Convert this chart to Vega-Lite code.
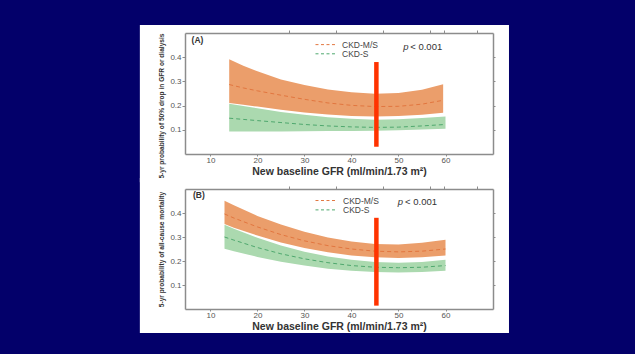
{
  "$schema": "https://vega.github.io/schema/vega-lite/v6.json",
  "background": "#03006A",
  "padding": {"left": 139, "top": 25, "right": 127, "bottom": 21},
  "autosize": {"type": "pad"},
  "config": {
    "font": "Liberation Sans",
    "view": {"stroke": null},
    "axis": {"grid": false, "domainColor": "#8c8c8c", "domainWidth": 1.5, "tickColor": "#8c8c8c", "tickWidth": 1, "labelColor": "#555555", "titleColor": "#333333"}
  },
  "datasets": {
    "one": [{"panel": "frame"}],
    "bandsA": [
      {"group": "CKD-M/S", "x": 14, "lo": 0.211, "mid": 0.287, "hi": 0.392},
      {"group": "CKD-M/S", "x": 17, "lo": 0.203, "mid": 0.273, "hi": 0.365},
      {"group": "CKD-M/S", "x": 20, "lo": 0.196, "mid": 0.261, "hi": 0.342},
      {"group": "CKD-M/S", "x": 25, "lo": 0.183, "mid": 0.243, "hi": 0.308},
      {"group": "CKD-M/S", "x": 30, "lo": 0.172, "mid": 0.226, "hi": 0.285},
      {"group": "CKD-M/S", "x": 35, "lo": 0.163, "mid": 0.211, "hi": 0.267},
      {"group": "CKD-M/S", "x": 40, "lo": 0.157, "mid": 0.201, "hi": 0.255},
      {"group": "CKD-M/S", "x": 45, "lo": 0.155, "mid": 0.196, "hi": 0.249},
      {"group": "CKD-M/S", "x": 50, "lo": 0.157, "mid": 0.197, "hi": 0.252},
      {"group": "CKD-M/S", "x": 55, "lo": 0.162, "mid": 0.206, "hi": 0.266},
      {"group": "CKD-M/S", "x": 59.5, "lo": 0.170, "mid": 0.222, "hi": 0.288},
      {"group": "CKD-S", "x": 14, "lo": 0.093, "mid": 0.148, "hi": 0.208},
      {"group": "CKD-S", "x": 17, "lo": 0.093, "mid": 0.143, "hi": 0.198},
      {"group": "CKD-S", "x": 20, "lo": 0.093, "mid": 0.138, "hi": 0.189},
      {"group": "CKD-S", "x": 25, "lo": 0.093, "mid": 0.130, "hi": 0.174},
      {"group": "CKD-S", "x": 30, "lo": 0.094, "mid": 0.122, "hi": 0.162},
      {"group": "CKD-S", "x": 35, "lo": 0.095, "mid": 0.116, "hi": 0.152},
      {"group": "CKD-S", "x": 40, "lo": 0.095, "mid": 0.112, "hi": 0.146},
      {"group": "CKD-S", "x": 45, "lo": 0.096, "mid": 0.110, "hi": 0.142},
      {"group": "CKD-S", "x": 50, "lo": 0.098, "mid": 0.111, "hi": 0.144},
      {"group": "CKD-S", "x": 55, "lo": 0.101, "mid": 0.116, "hi": 0.149},
      {"group": "CKD-S", "x": 60, "lo": 0.104, "mid": 0.122, "hi": 0.155}
    ],
    "bandsB": [
      {"group": "CKD-M/S", "x": 13, "lo": 0.354, "mid": 0.396, "hi": 0.451},
      {"group": "CKD-M/S", "x": 15, "lo": 0.339, "mid": 0.379, "hi": 0.432},
      {"group": "CKD-M/S", "x": 20, "lo": 0.306, "mid": 0.342, "hi": 0.388},
      {"group": "CKD-M/S", "x": 25, "lo": 0.277, "mid": 0.310, "hi": 0.352},
      {"group": "CKD-M/S", "x": 30, "lo": 0.254, "mid": 0.284, "hi": 0.322},
      {"group": "CKD-M/S", "x": 35, "lo": 0.236, "mid": 0.264, "hi": 0.298},
      {"group": "CKD-M/S", "x": 40, "lo": 0.223, "mid": 0.250, "hi": 0.281},
      {"group": "CKD-M/S", "x": 45, "lo": 0.216, "mid": 0.241, "hi": 0.271},
      {"group": "CKD-M/S", "x": 50, "lo": 0.213, "mid": 0.238, "hi": 0.269},
      {"group": "CKD-M/S", "x": 55, "lo": 0.216, "mid": 0.241, "hi": 0.276},
      {"group": "CKD-M/S", "x": 60, "lo": 0.223, "mid": 0.250, "hi": 0.289},
      {"group": "CKD-S", "x": 13, "lo": 0.251, "mid": 0.300, "hi": 0.351},
      {"group": "CKD-S", "x": 15, "lo": 0.241, "mid": 0.287, "hi": 0.334},
      {"group": "CKD-S", "x": 20, "lo": 0.217, "mid": 0.256, "hi": 0.297},
      {"group": "CKD-S", "x": 25, "lo": 0.197, "mid": 0.230, "hi": 0.265},
      {"group": "CKD-S", "x": 30, "lo": 0.181, "mid": 0.209, "hi": 0.239},
      {"group": "CKD-S", "x": 35, "lo": 0.168, "mid": 0.193, "hi": 0.219},
      {"group": "CKD-S", "x": 40, "lo": 0.159, "mid": 0.181, "hi": 0.205},
      {"group": "CKD-S", "x": 45, "lo": 0.154, "mid": 0.174, "hi": 0.196},
      {"group": "CKD-S", "x": 50, "lo": 0.152, "mid": 0.172, "hi": 0.193},
      {"group": "CKD-S", "x": 55, "lo": 0.154, "mid": 0.174, "hi": 0.196},
      {"group": "CKD-S", "x": 60, "lo": 0.159, "mid": 0.181, "hi": 0.205}
    ],
    "cutA": [{"x": 45.3, "lo": 0.03, "hi": 0.38}],
    "cutB": [{"x": 45.3, "lo": 0.014, "hi": 0.38}]
  },
  "spacing": 35,
  "bounds": "flush",
  "resolve": {"scale": {"stroke": "independent", "fill": "independent"}},
  "vconcat": [
    {
      "width": 308,
      "height": 121,
      "layer": [
        {
          "data": {"name": "one"},
          "mark": {"type": "rect", "fill": "white"},
          "encoding": {
            "x": {"datum": -5.0, "type": "quantitative", "scale": {"domain": [4.6, 70.1], "nice": false, "zero": false},
                  "axis": {"orient": "top", "zindex": 1, "values": [26.7, 36.8, 46.8, 56.8, 59.6, 66.8], "labels": false, "title": null, "tickSize": 3}},
            "x2": {"datum": 73.5},
            "y": {"datum": 0.533, "type": "quantitative", "scale": {"domain": [0, 0.5], "nice": false, "zero": false},
                  "axis": {"orient": "right", "zindex": 1, "values": [0.1, 0.2, 0.3, 0.4], "labels": false, "title": null, "tickSize": 2}},
            "y2": {"datum": -0.117}
          }
        },
        {
          "data": {"name": "bandsA"},
          "mark": {"type": "area", "opacity": 1},
          "encoding": {
            "x": {"field": "x", "type": "quantitative", "scale": {"domain": [4.6, 70.1], "nice": false, "zero": false},
                  "axis": {"orient": "bottom", "zindex": 1, "values": [10, 20, 30, 40, 50, 60], "tickSize": 2, "labelFontSize": 8, "labelPadding": 0, "title": "New baseline GFR (ml/min/1.73 m²)", "titleFontSize": 10.5, "titleFontWeight": "bold", "titlePadding": 2}},
            "y": {"field": "lo", "type": "quantitative", "scale": {"domain": [0, 0.5], "nice": false, "zero": false},
                  "axis": {"orient": "left", "zindex": 1, "values": [0.1, 0.2, 0.3, 0.4], "format": ".1f", "tickSize": 3, "labelFontSize": 8, "labelPadding": 1, "title": "5-yr probability of 50% drop in GFR or dialysis", "titleFontSize": 6.6, "titleFontWeight": "bold", "titleAnchor": "end", "titlePadding": 5}},
            "y2": {"field": "hi"},
            "fill": {"field": "group", "type": "nominal", "scale": {"domain": ["CKD-M/S", "CKD-S"], "range": ["#EB9E6B", "#ABD9AF"]}, "legend": null}
          }
        },
        {
          "data": {"name": "bandsA"},
          "mark": {"type": "line", "strokeWidth": 1, "strokeDash": [4, 3]},
          "encoding": {
            "x": {"field": "x", "type": "quantitative", "scale": {"domain": [4.6, 70.1], "nice": false, "zero": false}, "axis": null},
            "y": {"field": "mid", "type": "quantitative", "scale": {"domain": [0, 0.5], "nice": false, "zero": false}, "axis": null},
            "stroke": {"field": "group", "type": "nominal", "scale": {"domain": ["CKD-M/S", "CKD-S"], "range": ["#E2763F", "#4FA86E"]}, "legend": null}
          }
        },
        {
          "data": {"name": "cutA"},
          "mark": {"type": "rule", "color": "#FF3300", "strokeWidth": 4.5},
          "encoding": {
            "x": {"field": "x", "type": "quantitative", "scale": {"domain": [4.6, 70.1], "nice": false, "zero": false}, "axis": null},
            "y": {"field": "lo", "type": "quantitative", "scale": {"domain": [0, 0.5], "nice": false, "zero": false}, "axis": null},
            "y2": {"field": "hi"}
          }
        },
        {
          "data": {"name": "one"},
          "mark": {"type": "rule", "color": "#E2763F", "strokeWidth": 1, "strokeDash": [3, 2.5]},
          "encoding": {
            "x": {"datum": 32.35, "type": "quantitative", "scale": {"domain": [4.6, 70.1], "nice": false, "zero": false}, "axis": null},
            "x2": {"datum": 36.6},
            "y": {"datum": 0.452, "type": "quantitative", "scale": {"domain": [0, 0.5], "nice": false, "zero": false}, "axis": null}
          }
        },
        {
          "data": {"name": "one"},
          "mark": {"type": "rule", "color": "#4FA86E", "strokeWidth": 1, "strokeDash": [3, 2.5]},
          "encoding": {
            "x": {"datum": 32.35, "type": "quantitative", "scale": {"domain": [4.6, 70.1], "nice": false, "zero": false}, "axis": null},
            "x2": {"datum": 36.6},
            "y": {"datum": 0.414, "type": "quantitative", "scale": {"domain": [0, 0.5], "nice": false, "zero": false}, "axis": null}
          }
        },
        {
          "data": {"name": "one"},
          "mark": {"type": "text", "text": "CKD-M/S", "align": "left", "baseline": "middle", "fontSize": 8.5, "color": "#444444"},
          "encoding": {
            "x": {"datum": 38.0, "type": "quantitative", "scale": {"domain": [4.6, 70.1], "nice": false, "zero": false}, "axis": null},
            "y": {"datum": 0.452, "type": "quantitative", "scale": {"domain": [0, 0.5], "nice": false, "zero": false}, "axis": null}
          }
        },
        {
          "data": {"name": "one"},
          "mark": {"type": "text", "text": "CKD-S", "align": "left", "baseline": "middle", "fontSize": 8.5, "color": "#444444"},
          "encoding": {
            "x": {"datum": 38.0, "type": "quantitative", "scale": {"domain": [4.6, 70.1], "nice": false, "zero": false}, "axis": null},
            "y": {"datum": 0.414, "type": "quantitative", "scale": {"domain": [0, 0.5], "nice": false, "zero": false}, "axis": null}
          }
        },
        {
          "data": {"name": "one"},
          "mark": {"type": "text", "text": "(A)", "align": "left", "baseline": "middle", "fontSize": 8.5, "fontWeight": "bold", "color": "#333333"},
          "encoding": {
            "x": {"datum": 6.0, "type": "quantitative", "scale": {"domain": [4.6, 70.1], "nice": false, "zero": false}, "axis": null},
            "y": {"datum": 0.471, "type": "quantitative", "scale": {"domain": [0, 0.5], "nice": false, "zero": false}, "axis": null}
          }
        },
        {
          "data": {"name": "one"},
          "mark": {"type": "text", "text": "p", "align": "left", "baseline": "middle", "fontSize": 9.5, "fontStyle": "italic", "color": "#333333"},
          "encoding": {
            "x": {"datum": 51.0, "type": "quantitative", "scale": {"domain": [4.6, 70.1], "nice": false, "zero": false}, "axis": null},
            "y": {"datum": 0.441, "type": "quantitative", "scale": {"domain": [0, 0.5], "nice": false, "zero": false}, "axis": null}
          }
        },
        {
          "data": {"name": "one"},
          "mark": {"type": "text", "text": "< 0.001", "align": "left", "baseline": "middle", "fontSize": 9.5, "color": "#333333"},
          "encoding": {
            "x": {"datum": 52.5, "type": "quantitative", "scale": {"domain": [4.6, 70.1], "nice": false, "zero": false}, "axis": null},
            "y": {"datum": 0.441, "type": "quantitative", "scale": {"domain": [0, 0.5], "nice": false, "zero": false}, "axis": null}
          }
        }
      ]
    },
    {
      "width": 308,
      "height": 120,
      "layer": [
        {
          "data": {"name": "one"},
          "mark": {"type": "rect", "fill": "white"},
          "encoding": {
            "x": {"datum": -5.0, "type": "quantitative", "scale": {"domain": [4.6, 70.1], "nice": false, "zero": false},
                  "axis": {"orient": "top", "zindex": 1, "values": [26.7, 36.8, 46.8, 56.8, 59.6, 66.8], "labels": false, "title": null, "tickSize": 3}},
            "x2": {"datum": 73.5},
            "y": {"datum": 0.546, "type": "quantitative", "scale": {"domain": [0, 0.5], "nice": false, "zero": false},
                  "axis": {"orient": "right", "zindex": 1, "values": [0.1, 0.2, 0.3, 0.4], "labels": false, "title": null, "tickSize": 2}},
            "y2": {"datum": -0.1}
          }
        },
        {
          "data": {"name": "bandsB"},
          "mark": {"type": "area", "opacity": 1},
          "encoding": {
            "x": {"field": "x", "type": "quantitative", "scale": {"domain": [4.6, 70.1], "nice": false, "zero": false},
                  "axis": {"orient": "bottom", "zindex": 1, "values": [10, 20, 30, 40, 50, 60], "tickSize": 2, "labelFontSize": 8, "labelPadding": 0, "title": "New baseline GFR (ml/min/1.73 m²)", "titleFontSize": 10.5, "titleFontWeight": "bold", "titlePadding": 2}},
            "y": {"field": "lo", "type": "quantitative", "scale": {"domain": [0, 0.5], "nice": false, "zero": false},
                  "axis": {"orient": "left", "zindex": 1, "values": [0.1, 0.2, 0.3, 0.4], "format": ".1f", "tickSize": 3, "labelFontSize": 8, "labelPadding": 1, "title": "5-yr probability of all-cause mortality", "titleFontSize": 6.6, "titleFontWeight": "bold", "titlePadding": 5}},
            "y2": {"field": "hi"},
            "fill": {"field": "group", "type": "nominal", "scale": {"domain": ["CKD-M/S", "CKD-S"], "range": ["#EB9E6B", "#ABD9AF"]}, "legend": null}
          }
        },
        {
          "data": {"name": "bandsB"},
          "mark": {"type": "line", "strokeWidth": 1, "strokeDash": [4, 3]},
          "encoding": {
            "x": {"field": "x", "type": "quantitative", "scale": {"domain": [4.6, 70.1], "nice": false, "zero": false}, "axis": null},
            "y": {"field": "mid", "type": "quantitative", "scale": {"domain": [0, 0.5], "nice": false, "zero": false}, "axis": null},
            "stroke": {"field": "group", "type": "nominal", "scale": {"domain": ["CKD-M/S", "CKD-S"], "range": ["#E2763F", "#4FA86E"]}, "legend": null}
          }
        },
        {
          "data": {"name": "cutB"},
          "mark": {"type": "rule", "color": "#FF3300", "strokeWidth": 4.5},
          "encoding": {
            "x": {"field": "x", "type": "quantitative", "scale": {"domain": [4.6, 70.1], "nice": false, "zero": false}, "axis": null},
            "y": {"field": "lo", "type": "quantitative", "scale": {"domain": [0, 0.5], "nice": false, "zero": false}, "axis": null},
            "y2": {"field": "hi"}
          }
        },
        {
          "data": {"name": "one"},
          "mark": {"type": "rule", "color": "#E2763F", "strokeWidth": 1, "strokeDash": [3, 2.5]},
          "encoding": {
            "x": {"datum": 32.35, "type": "quantitative", "scale": {"domain": [4.6, 70.1], "nice": false, "zero": false}, "axis": null},
            "x2": {"datum": 36.6},
            "y": {"datum": 0.452, "type": "quantitative", "scale": {"domain": [0, 0.5], "nice": false, "zero": false}, "axis": null}
          }
        },
        {
          "data": {"name": "one"},
          "mark": {"type": "rule", "color": "#4FA86E", "strokeWidth": 1, "strokeDash": [3, 2.5]},
          "encoding": {
            "x": {"datum": 32.35, "type": "quantitative", "scale": {"domain": [4.6, 70.1], "nice": false, "zero": false}, "axis": null},
            "x2": {"datum": 36.6},
            "y": {"datum": 0.413, "type": "quantitative", "scale": {"domain": [0, 0.5], "nice": false, "zero": false}, "axis": null}
          }
        },
        {
          "data": {"name": "one"},
          "mark": {"type": "text", "text": "CKD-M/S", "align": "left", "baseline": "middle", "fontSize": 8.5, "color": "#444444"},
          "encoding": {
            "x": {"datum": 38.2, "type": "quantitative", "scale": {"domain": [4.6, 70.1], "nice": false, "zero": false}, "axis": null},
            "y": {"datum": 0.452, "type": "quantitative", "scale": {"domain": [0, 0.5], "nice": false, "zero": false}, "axis": null}
          }
        },
        {
          "data": {"name": "one"},
          "mark": {"type": "text", "text": "CKD-S", "align": "left", "baseline": "middle", "fontSize": 8.5, "color": "#444444"},
          "encoding": {
            "x": {"datum": 38.2, "type": "quantitative", "scale": {"domain": [4.6, 70.1], "nice": false, "zero": false}, "axis": null},
            "y": {"datum": 0.413, "type": "quantitative", "scale": {"domain": [0, 0.5], "nice": false, "zero": false}, "axis": null}
          }
        },
        {
          "data": {"name": "one"},
          "mark": {"type": "text", "text": "(B)", "align": "left", "baseline": "middle", "fontSize": 8.5, "fontWeight": "bold", "color": "#333333"},
          "encoding": {
            "x": {"datum": 6.3, "type": "quantitative", "scale": {"domain": [4.6, 70.1], "nice": false, "zero": false}, "axis": null},
            "y": {"datum": 0.473, "type": "quantitative", "scale": {"domain": [0, 0.5], "nice": false, "zero": false}, "axis": null}
          }
        },
        {
          "data": {"name": "one"},
          "mark": {"type": "text", "text": "p", "align": "left", "baseline": "middle", "fontSize": 9.5, "fontStyle": "italic", "color": "#333333"},
          "encoding": {
            "x": {"datum": 49.85, "type": "quantitative", "scale": {"domain": [4.6, 70.1], "nice": false, "zero": false}, "axis": null},
            "y": {"datum": 0.445, "type": "quantitative", "scale": {"domain": [0, 0.5], "nice": false, "zero": false}, "axis": null}
          }
        },
        {
          "data": {"name": "one"},
          "mark": {"type": "text", "text": "< 0.001", "align": "left", "baseline": "middle", "fontSize": 9.5, "color": "#333333"},
          "encoding": {
            "x": {"datum": 51.4, "type": "quantitative", "scale": {"domain": [4.6, 70.1], "nice": false, "zero": false}, "axis": null},
            "y": {"datum": 0.445, "type": "quantitative", "scale": {"domain": [0, 0.5], "nice": false, "zero": false}, "axis": null}
          }
        }
      ]
    }
  ]
}
